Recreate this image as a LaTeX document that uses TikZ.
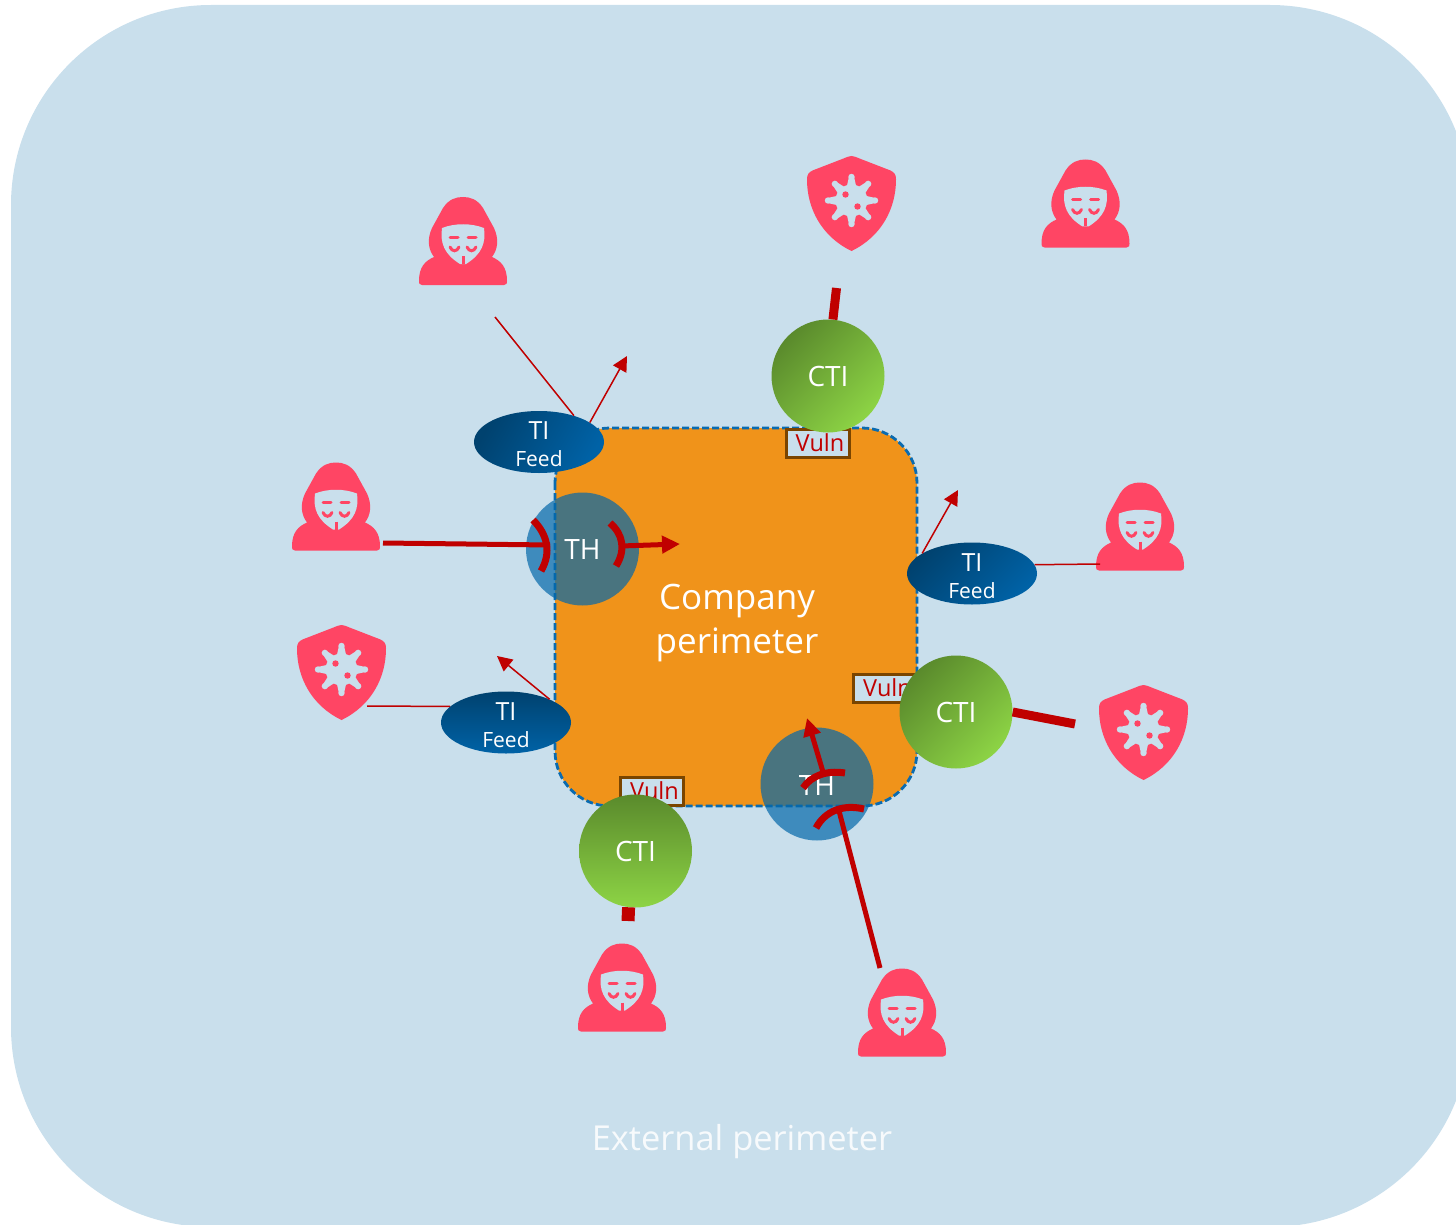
\documentclass[tikz,border=0pt]{standalone}
\usepackage{fontspec}
\usepackage{xcolor}
\setmainfont{Open Sans}
\usetikzlibrary{shapes.geometric,arrows.meta}

\definecolor{skybg}{HTML}{C9DFEC}
\definecolor{perimorange}{HTML}{F0931A}
\definecolor{dashblue}{HTML}{0A6BB0}
\definecolor{threatpink}{HTML}{FF4564}
\definecolor{linkred}{HTML}{C00000}
\definecolor{feeddark}{HTML}{00426F}
\definecolor{feedlight}{HTML}{0062A6}
\definecolor{ctidark}{HTML}{5A8A2C}
\definecolor{ctilight}{HTML}{8DD445}
\definecolor{thblue}{HTML}{0368AA}
\definecolor{vulnbrown}{HTML}{7A4500}

\newcommand{\feedtext}{\fontsize{25}{28}\selectfont\rule{0pt}{23pt}TI\\[10pt]\fontsize{21}{24}\selectfont Feed}

\tikzset{
  feednode/.style={ellipse, minimum width=130pt, minimum height=62pt, inner sep=-20pt,
    top color=feeddark, bottom color=feedlight, text=white, align=center},
  ctinode/.style={circle, minimum size=113pt, inner sep=0pt, text height=22pt,
    top color=ctidark, bottom color=ctilight, text=white, font=\fontsize{28}{30}\selectfont},
  thnode/.style={circle, minimum size=113pt, inner sep=0pt, fill=thblue, fill opacity=.7},
  thlabel/.style={text=white, font=\fontsize{28}{30}\selectfont},
  vulnnode/.style={draw=vulnbrown, line width=3pt, fill=skybg, minimum width=63pt, minimum height=28pt,
    inner sep=0pt, text=linkred, font=\fontsize{23.5}{26}\selectfont},
  thin link/.style={draw=linkred, line width=1.5pt},
  thin arrow/.style={thin link, -{Triangle[length=15pt,width=15pt]}},
  stub/.style={draw=linkred, line width=9pt},
  attack/.style={draw=linkred, line width=5pt},
  attack arrow/.style={attack, -{Triangle[length=18pt,width=17pt]}},
  deflect/.style={draw=linkred, line width=7pt},
  hacker/.pic={
    \fill[threatpink] (-41,44) .. controls (-44,44) and (-44,42) .. (-44,40)
      .. controls (-44,26) and (-38,20) .. (-29,16)
      .. controls (-35,8) and (-36,-2) .. (-31,-13) -- (-20,-33)
      .. controls (-14,-42) and (-7,-44) .. (0,-44)
      .. controls (7,-44) and (14,-42) .. (20,-33) -- (31,-13)
      .. controls (36,-2) and (35,8) .. (29,16)
      .. controls (38,20) and (44,26) .. (44,40)
      .. controls (44,42) and (44,44) .. (41,44) -- cycle;
    \fill[skybg] (-21,-13) .. controls (-8,-18) and (8,-18) .. (21,-13)
      .. controls (23,2) and (19,13) .. (3,23) -- (-3,23)
      .. controls (-19,13) and (-23,2) .. (-21,-13) -- cycle;
    \draw[threatpink, line width=3pt] (0,15) -- (0,23);
    \draw[threatpink, line width=3pt, line cap=round] (-13,-4) -- (-5,-4) (5,-4) -- (13,-4);
    \draw[threatpink, line width=3pt, line cap=round] (-13,6) .. controls (-11,11) and (-6,11) .. (-4,6);
    \draw[threatpink, line width=3pt, line cap=round] (4,6) .. controls (6,11) and (11,11) .. (13,6);
  },
  shieldicon/.pic={
    \fill[threatpink] (0,-47.5) .. controls (-3,-47.5) and (-5,-46) .. (-8,-45) -- (-39,-33)
      .. controls (-43,-31) and (-44.5,-29) .. (-44.5,-24)
      .. controls (-44.5,5) and (-30,33) .. (0,47.5)
      .. controls (30,33) and (44.5,5) .. (44.5,-24)
      .. controls (44.5,-29) and (43,-31) .. (39,-33) -- (8,-45)
      .. controls (5,-46) and (3,-47.5) .. (0,-47.5) -- cycle;
    \begin{scope}[shift={(0,-3)}]
      \fill[skybg] (0,0) circle (16);
      \foreach \a in {0,45,...,315} {
        \fill[skybg] (\a-18:15) -- (\a-6:24) -- (\a+6:24) -- (\a+18:15) -- cycle;
        \fill[skybg] (\a:23.5) circle (3.2);
      }
    \end{scope}
    \fill[threatpink] (-6,-9) circle (3.2);
    \fill[threatpink] (6,3) circle (3.2);
  }
}

\begin{document}
\begin{tikzpicture}[x=1pt, y=-1pt]
    \useasboundingbox (0,0) rectangle (1456,1225);
    \clip (0,0) rectangle (1456,1225);

    % External perimeter
    \fill[skybg, rounded corners=200pt] (11,5) rectangle (1470,1227);
    \node[text=white!85!skybg, font=\fontsize{34.4}{42}\selectfont] (externallabel) at (742,1142) {External perimeter};

    % Company perimeter
    \draw[fill=perimorange, draw=dashblue, line width=2.8pt, dash pattern=on 7pt off 3pt, rounded corners=55pt]
        (555,428) rectangle (917,806);
    \node[text=white, align=center, font=\fontsize{35}{43.5}\selectfont] (companylabel) at (737,623) {Company\\perimeter};

    % Threat icons
    \foreach \x/\y in {463/241, 1085.5/203.5, 336/506.5, 1140/526.5, 622/987.5, 902/1012.5} {
        \pic at (\x,\y) {hacker};
    }
    \foreach \x/\y in {851.5/203.5, 341.5/672.5, 1143.5/732.5} {
        \pic at (\x,\y) {shieldicon};
    }

    % Vuln boxes
    \node[vulnnode] (vulnA) at (817.5,443) {\hspace{5pt}Vuln};
    \node[vulnnode] (vulnB) at (885,688) {\hspace{5pt}Vuln};
    \node[vulnnode] (vulnC) at (652,791) {\hspace{5pt}Vuln};

    % Threat hunting circles
    \node[thnode] (thA) at (582.5,549) {};
    \node[thnode] (thB) at (817,784) {};
    \node[thlabel] (thAlabel) at (582.5,550) {TH};
    \node[thlabel] (thBlabel) at (817,785) {TH};

    % CTI circles
    \node[ctinode, shading angle=45] (ctiA) at (828,376) {CTI};
    \node[ctinode, shading angle=45] (ctiB) at (956,712) {CTI};
    \node[ctinode] (ctiC) at (635.5,851) {CTI};

    % TI feeds
    \node[feednode, shading angle=60] (feedA) at (539,442) {\feedtext};
    \node[feednode, shading angle=45] (feedB) at (972,573.5) {\feedtext};
    \node[feednode] (feedC) at (506,722.5) {\feedtext};

    % Free ends of the links
    \coordinate (feedAin) at (495,317);
    \coordinate (feedAout) at (627,356);
    \coordinate (feedBin) at (1100,564);
    \coordinate (feedBout) at (958,490);
    \coordinate (feedCin) at (367,706);
    \coordinate (feedCout) at (497,656);
    \coordinate (ctiAend) at (836.5,288);
    \coordinate (ctiBend) at (1075,724);
    \coordinate (ctiCend) at (628,921);
    \coordinate (thAstart) at (383,543);
    \coordinate (thAhit) at (550,545);
    \coordinate (thAfrom) at (621,546);
    \coordinate (thAend) at (680,544);
    \coordinate (thBstart) at (880,968);
    \coordinate (thBhit) at (838,807);
    \coordinate (thBfrom) at (823,772);
    \coordinate (thBend) at (807,718);

    % Thin links around the feeds
    \draw[thin link] (feedAin) -- (feedA.37);
    \draw[thin arrow] (feedA.21) -- (feedAout);
    \draw[thin link] (feedBin) -- (feedB.8);
    \draw[thin arrow] (feedB.158) -- (feedBout);
    \draw[thin link] (feedCin) -- (feedC.164);
    \draw[thin arrow] (feedC.28) -- (feedCout);

    % Stubs stopped by CTI
    \draw[stub] (ctiA.85) -- (ctiAend);
    \draw[stub] (ctiB.0) -- (ctiBend);
    \draw[stub, line width=13pt] (ctiC.-97) -- (ctiCend);

    % Attacks through TH
    \draw[attack] (thAstart) -- (thAhit);
    \draw[attack arrow] (thAfrom) -- (thAend);
    \draw[attack] (thBstart) -- (thBhit);
    \draw[attack arrow] (thBfrom) -- (thBend);
    \draw[deflect] (533,520) .. controls (547,534) and (552,552) .. (541,571);
    \draw[deflect] (610,523) .. controls (623,534) and (626,550) .. (616,566);
    \draw[deflect] (816,828) .. controls (825,811) and (843,804) .. (864,809);
    \draw[deflect] (803,788) .. controls (811,776) and (826,770) .. (845,773);
\end{tikzpicture}
\end{document}
